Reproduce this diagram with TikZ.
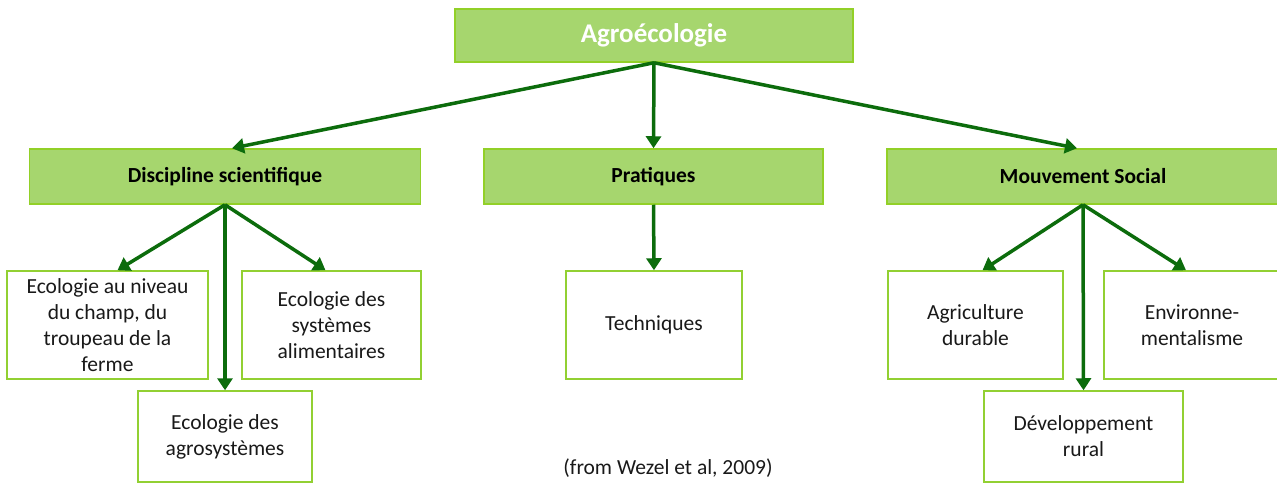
\documentclass[tikz,border=0pt]{standalone}
\usepackage{fontspec}
\setmainfont{Carlito}
\usetikzlibrary{arrows.meta}
\definecolor{hdrfill}{RGB}{166,214,110}
\definecolor{hdrline}{RGB}{146,208,40}
\definecolor{boxline}{RGB}{146,208,50}
\definecolor{arr}{RGB}{12,108,12}
\tikzset{
  hdr/.style={draw=hdrline, line width=1.5pt, fill=hdrfill, inner sep=0pt, font=\fontsize{21.5}{26}\selectfont\bfseries, text=black},
  leaf/.style={draw=boxline, line width=1.5pt, fill=white, inner sep=0pt, align=center, font=\fontsize{21.5}{26}\selectfont, text=black!90},
  conn/.style={draw=arr, line width=3.5pt, -{Triangle[length=12pt,width=15pt]}}
}
\begin{document}
\begin{tikzpicture}[x=1pt,y=-1pt]
\useasboundingbox (0,0) rectangle (1277,484);
\node[hdr, minimum width=398pt, minimum height=53pt, text=white, font=\fontsize{27}{32}\selectfont\bfseries] (agro) at (654,35.5) {Agroécologie};
\node[hdr, minimum width=391pt, minimum height=55pt] (disc) at (225,176.5) {Discipline scientifique};
\node[hdr, minimum width=339pt, minimum height=55pt] (prat) at (653.5,176.5) {Pratiques};
\node[hdr, minimum width=392pt, minimum height=55pt] (mouv) at (1083,176.5) {Mouvement Social};
\node[leaf, minimum width=201pt, minimum height=108pt] (eco1) at (107.5,325) {Ecologie au niveau\\du champ, du\\troupeau de la\\ferme};
\node[leaf, minimum width=179pt, minimum height=108pt] (eco2) at (331.5,325) {Ecologie des\\systèmes\\alimentaires};
\node[leaf, minimum width=174pt, minimum height=91pt] (eco3) at (225,436.5) {Ecologie des\\agrosystèmes};
\node[leaf, minimum width=176pt, minimum height=108pt] (tech) at (654,325) {Techniques};
\node[leaf, minimum width=175pt, minimum height=108pt] (agri) at (975.5,325) {Agriculture\\durable};
\node[leaf, minimum width=176pt, minimum height=108pt] (env) at (1192,325) {Environne-\\mentalisme};
\node[leaf, minimum width=199pt, minimum height=91pt] (dev) at (1083.5,436.5) {Développement\\rural};
\node[font=\fontsize{21.5}{26}\selectfont, text=black!90] (src) at (668,468) {(from Wezel et al, 2009)};
\draw[conn] (agro.south) -- ([xshift=7pt]disc.north);
\draw[conn] (agro.south) -- (prat.north);
\draw[conn] (agro.south) -- ([xshift=-6pt]mouv.north);
\draw[conn] (disc.south) -- ([xshift=10pt]eco1.north);
\draw[conn] (disc.south) -- (eco3.north);
\draw[conn] (disc.south) -- ([xshift=-6pt]eco2.north);
\draw[conn] (prat.south) -- (tech.north);
\draw[conn] (mouv.south) -- ([xshift=7pt]agri.north);
\draw[conn] (mouv.south) -- (dev.north);
\draw[conn] (mouv.south) -- ([xshift=-6pt]env.north);
\end{tikzpicture}
\end{document}
